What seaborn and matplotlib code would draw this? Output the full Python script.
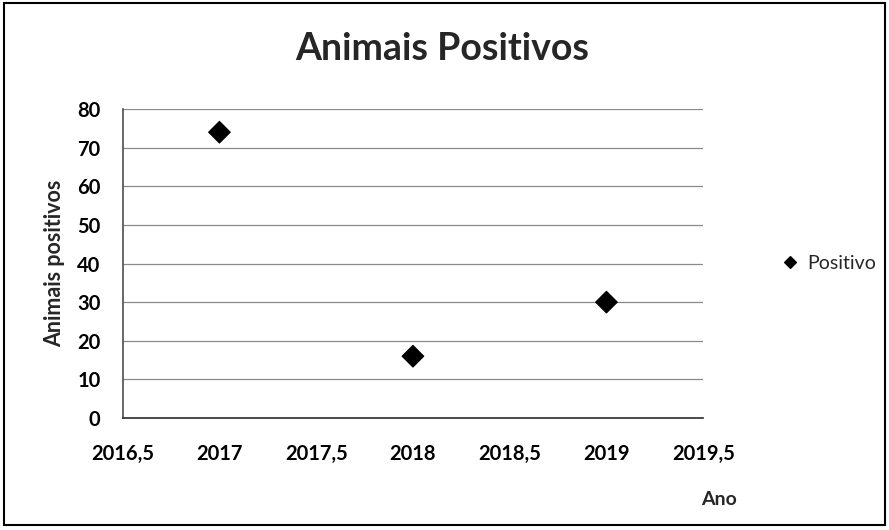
import matplotlib
matplotlib.use("Agg")
import matplotlib.pyplot as plt
import seaborn as sns
import pandas as pd
from matplotlib.ticker import FuncFormatter, MultipleLocator
from matplotlib.patches import Rectangle

anos = [2017, 2018, 2019]
positivos = [74, 16, 30]
serie = "Positivo"
xticks = [2016.5, 2017, 2017.5, 2018, 2018.5, 2019, 2019.5]

df = pd.DataFrame({"Ano": anos, "Animais positivos": positivos, "Serie": serie})

sns.set_theme(style="white")
plt.rcParams['font.family'] = ['Lato', 'DejaVu Sans']

fig = plt.figure(figsize=(8.89, 5.30), dpi=100)
ax = fig.add_axes([0.138, 0.2113, 0.653, 0.5830])

sns.scatterplot(data=df, x="Ano", y="Animais positivos", hue="Serie",
                palette=["black"], marker="D", s=120, edgecolor="black",
                ax=ax, legend=True, zorder=3)

ax.set_xlim(2016.5, 2019.5)
ax.set_ylim(0, 80)
ax.yaxis.set_major_locator(MultipleLocator(10))
ax.set_xticks(xticks)
ax.xaxis.set_major_formatter(FuncFormatter(
    lambda v, p: (f"{v:.1f}".replace(".", ",") if abs(v - round(v)) > 1e-6 else f"{int(round(v))}")))
ax.tick_params(axis="both", labelsize=14.5, length=0, colors="black")
ax.tick_params(axis="x", pad=19)
ax.tick_params(axis="y", pad=16)
for lab in ax.get_xticklabels() + ax.get_yticklabels():
    lab.set_fontweight("bold")
ax.grid(axis="y", color="#8a8a8a", linewidth=0.9)
ax.grid(axis="x", visible=False)
for s in ["top", "right"]:
    ax.spines[s].set_visible(False)
ax.spines["left"].set_color("#555555")
ax.spines["bottom"].set_color("#333333")

ax.set_xlabel("")
ax.set_ylabel("Animais positivos", fontsize=15.5, fontweight="bold")
ax.yaxis.set_label_coords(-0.100, 0.5)
fig.text(0.809, 0.057, "Ano", fontsize=14, fontweight="bold", ha="center", va="center")
fig.text(0.497, 0.907, "Animais Positivos", fontsize=27, fontweight="bold", ha="center", va="center")

leg = ax.legend(loc="center left", bbox_to_anchor=(1.103, 0.5), frameon=False,
                fontsize=14, handletextpad=-0.1, markerscale=0.6, borderaxespad=0)

fig.patches.append(Rectangle((0.004, 0.01), 0.992, 0.985, transform=fig.transFigure,
                             fill=False, edgecolor="black", linewidth=1.5))

fig.savefig("out.png", dpi=100)
